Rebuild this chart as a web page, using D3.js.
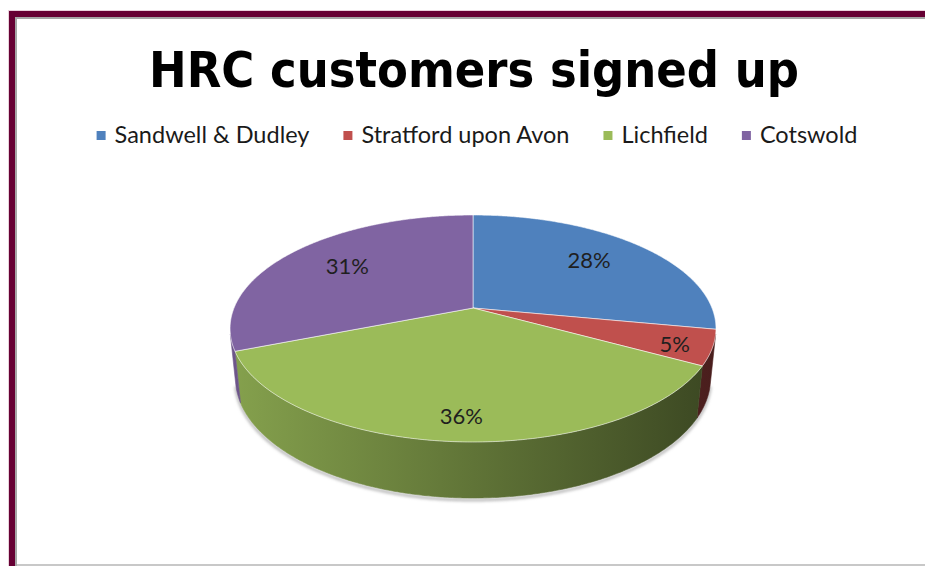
<!DOCTYPE html>
<html>
<head>
<meta charset="utf-8">
<script src="https://cdn.jsdelivr.net/npm/d3@7"></script>
<style>
  html, body { margin: 0; padding: 0; background: #fff; }
  svg { display: block; }
</style>
</head>
<body>
<svg id="chart" width="925" height="566"></svg>
<script>
// ---- data ----
const categories = ["Sandwell & Dudley", "Stratford upon Avon", "Lichfield", "Cotswold"];
const shares = [28, 5, 36, 31];
const colors = ["#4F81BD", "#C0504D", "#9BBB59", "#8064A2"];
const chartTitle = "HRC customers signed up";

const W = 925, H = 566;
const svg = d3.select("#chart");
const defs = svg.append("defs");

// ---- frame ----
svg.append("rect").attr("x", 8).attr("y", 10).attr("width", W - 8).attr("height", 1).attr("fill", "#e9d2dc");
svg.append("rect").attr("x", 8).attr("y", 10).attr("width", 1).attr("height", H - 10).attr("fill", "#e9d2dc");
svg.append("rect").attr("x", 9).attr("y", 11).attr("width", W - 9).attr("height", 6).attr("fill", "#660033");
svg.append("rect").attr("x", 9).attr("y", 11).attr("width", 6).attr("height", H - 11).attr("fill", "#660033");
svg.append("rect").attr("x", 15).attr("y", 17).attr("width", W - 15).attr("height", 2).attr("fill", "#a6a6a6");
svg.append("rect").attr("x", 15).attr("y", 17).attr("width", 2).attr("height", H - 17).attr("fill", "#a6a6a6");
svg.append("rect").attr("x", 17).attr("y", H - 2).attr("width", W - 17).attr("height", 2).attr("fill", "#c8c8c8");

// ---- title ----
svg.append("text")
  .attr("x", 474).attr("y", 87)
  .attr("text-anchor", "middle")
  .style("font-family", "'DejaVu Sans Condensed', 'DejaVu Sans', sans-serif")
  .style("font-stretch", "condensed")
  .style("font-weight", "bold")
  .style("font-size", "50px")
  .attr("fill", "#000")
  .text(chartTitle);

// ---- legend ----
const legendFont = "23.5px Lato, 'Open Sans', sans-serif";
const legend = svg.append("g");
const items = legend.selectAll("g").data(categories).join("g");
items.append("rect").attr("width", 9).attr("height", 9).attr("y", 131)
  .attr("fill", (d, i) => colors[i]);
items.append("text").attr("y", 143).style("font", legendFont).attr("fill", "#1a1a1a")
  .text(d => d);
{
  const widths = [];
  items.select("text").each(function () { widths.push(this.getComputedTextLength()); });
  const sw = 18, gap = 34;
  const total = d3.sum(widths) + widths.length * sw + (widths.length - 1) * gap;
  let x = 477 - total / 2;
  items.each(function (d, i) {
    d3.select(this).select("rect").attr("x", x);
    d3.select(this).select("text").attr("x", x + sw);
    x += sw + widths[i] + gap;
  });
}

// ---- 3D pie ----
// camera looking down at the disc with a perspective projection
const cam = { cx: 473, cy: 308, f: 1175, dist: 1, sinA: 0.4594, cosA: 0.8883 };
const R = 0.2034;      // disc radius (world units)
const T = 0.048;       // disc thickness

function project(X, Y, Z) {
  const vy = Y - cam.dist * cam.sinA;
  const vz = Z - cam.dist * cam.cosA;
  const depth = -vy * cam.sinA - vz * cam.cosA;
  const up = vy * cam.cosA - vz * cam.sinA;
  return [cam.cx + cam.f * X / depth, cam.cy - cam.f * up / depth];
}
// point on a rim at angle a (0 = far side, clockwise seen from above)
const rim = (a, r, y) => project(r * Math.sin(a), y, -r * Math.cos(a));

function arcPoints(a0, a1, r, y) {
  const n = Math.max(2, Math.ceil((a1 - a0) / (Math.PI / 360)));
  return d3.range(n + 1).map(i => rim(a0 + (a1 - a0) * i / n, r, y));
}

const arcs = d3.pie().sort(null).value(d => d).startAngle(0).endAngle(2 * Math.PI)(shares);
const line = d3.line();

// front-facing part of the cylinder wall
const c = R / (cam.dist * cam.cosA);
const vis0 = Math.acos(-c), vis1 = 2 * Math.PI - Math.acos(-c);

// silhouette extent for side shading
const leftX = d3.min(d3.range(0, 2 * Math.PI, 0.01), a => rim(a, R, 0)[0]);
const rightX = d3.max(d3.range(0, 2 * Math.PI, 0.01), a => rim(a, R, 0)[0]);

arcs.forEach((d, i) => {
  const base = d3.rgb(colors[i]);
  const g = defs.append("linearGradient").attr("id", "side" + i)
    .attr("gradientUnits", "userSpaceOnUse")
    .attr("x1", leftX).attr("x2", rightX).attr("y1", 0).attr("y2", 0);
  [[0, 0.86], [0.5, 0.62], [1, 0.38]].forEach(([o, k]) => {
    g.append("stop").attr("offset", o)
      .attr("stop-color", d3.rgb(base.r * k, base.g * k, base.b * k).formatHex());
  });
});

defs.append("filter").attr("id", "soft").attr("x", "-10%").attr("y", "-10%").attr("width", "120%").attr("height", "130%")
  .append("feGaussianBlur").attr("stdDeviation", 1.6);

const pieG = svg.append("g");

// soft shadow under the lower rim
{
  const pts = arcPoints(vis0, vis1, R, -T).map(p => [p[0], p[1] + 2]);
  pieG.append("path").attr("d", line(pts)).attr("fill", "none")
    .attr("stroke", "#b0b0b0").attr("stroke-width", 2.5).attr("filter", "url(#soft)");
}

// cylinder walls
arcs.forEach((d, i) => {
  const a0 = Math.max(d.startAngle, vis0), a1 = Math.min(d.endAngle, vis1);
  if (a1 <= a0) return;
  const top = arcPoints(a0, a1, R, 0);
  const bottom = arcPoints(a0, a1, R, -T).reverse();
  pieG.append("path").attr("d", line(top.concat(bottom)) + "Z")
    .attr("fill", `url(#side${i})`)
    .attr("stroke", `url(#side${i})`).attr("stroke-width", 0.6);
});

// top faces
const centre = project(0, 0, 0);
arcs.forEach((d, i) => {
  const pts = [centre].concat(arcPoints(d.startAngle, d.endAngle, R, 0));
  pieG.append("path").attr("d", line(pts) + "Z")
    .attr("fill", colors[i])
    .attr("stroke", "rgba(255,255,255,0.55)").attr("stroke-width", 1)
    .attr("stroke-linejoin", "round");
});

// value labels
const frontDepth = rim(Math.PI, R, -T)[1] - rim(Math.PI, R, 0)[1];
const total = d3.sum(shares);
const labelSize = 22;
arcs.forEach((d, i) => {
  const mid = (d.startAngle + d.endAngle) / 2;
  const frac = d.data / total < 0.1 ? 0.85 : 0.68;
  const p = rim(mid, R * frac, 0);
  const cm = -Math.cos(mid);
  const y = p[1] + (cm > 0 ? 0.42 : 0.15) * frontDepth * cm * Math.abs(cm);
  pieG.append("text")
    .attr("x", p[0]).attr("y", y + labelSize * 0.36)
    .attr("text-anchor", "middle")
    .style("font", `${labelSize}px Lato, 'Open Sans', sans-serif`)
    .attr("fill", "#1f1f1f")
    .text(Math.round(d.data / total * 100) + "%");
});
</script>
</body>
</html>
